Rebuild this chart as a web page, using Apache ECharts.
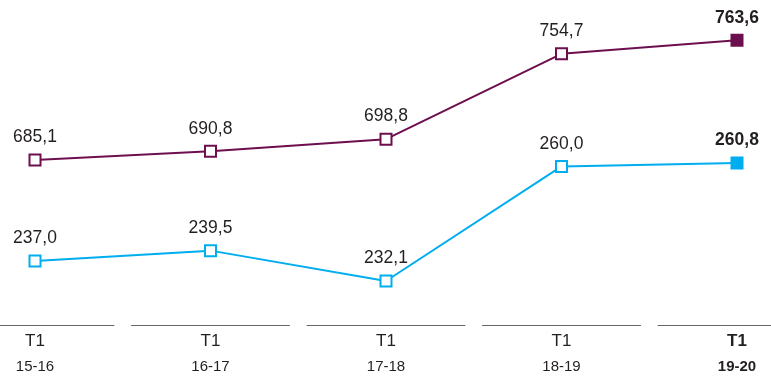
<!DOCTYPE html>
<html>
<head>
<meta charset="utf-8">
<script src="https://cdn.jsdelivr.net/npm/echarts@6/dist/echarts.min.js"></script>
<style>html,body{margin:0;padding:0;background:#fff}#c{width:771px;height:378px}</style>
</head>
<body>
<div id="c"></div>
<script>
const quarters = ['T1','T1','T1','T1','T1'];
const seasons = ['15-16','16-17','17-18','18-19','19-20'];
const seriesTop = [685.1, 690.8, 698.8, 754.7, 763.6];
const seriesBottom = [237.0, 239.5, 232.1, 260.0, 260.8];

const purple = '#6d0f4e';
const cyan = '#00aeef';
const fmt = v => v.toFixed(1).replace('.', ',');
const last = seasons.length - 1;

function buildData(values, color) {
  return values.map((v, i) => i === last ? {
    value: v,
    itemStyle: { color: color, borderColor: color },
    label: { fontWeight: 'bold' }
  } : v);
}

function mkSeries(values, color, yIdx) {
  return {
    type: 'line',
    yAxisIndex: yIdx,
    data: buildData(values, color),
    symbol: 'rect',
    symbolSize: 11,
    lineStyle: { color: color, width: 2 },
    itemStyle: { color: '#fff', borderColor: color, borderWidth: 2 },
    label: {
      show: true, position: 'top', distance: 7,
      color: '#231f20', fontSize: 17.5, fontFamily: 'Liberation Sans',
      formatter: p => fmt(p.value)
    },
    emphasis: { disabled: true },
    z: 3
  };
}

const chart = echarts.init(document.getElementById('c'));
chart.setOption({
  animation: false,
  backgroundColor: '#fff',
  grid: { left: -52.75, right: -53.75, top: 0, bottom: 53, containLabel: false, outerBoundsMode: 'none' },
  xAxis: {
    type: 'category',
    data: seasons.map((s, i) => quarters[i] + '|' + s),
    boundaryGap: true,
    axisLine: { show: true, lineStyle: { color: '#666', width: 1, type: [158, 17.5], dashOffset: 166.75 } },
    axisTick: { show: false },
    axisLabel: {
      margin: 5,
      interval: 0,
      fontFamily: 'Liberation Sans',
      formatter: (v, i) => {
        const [q, s] = v.split('|');
        return i === last ? '{qb|' + q + '}\n{sb|' + s + '}' : '{q|' + q + '}\n{s|' + s + '}';
      },
      rich: {
        q: { fontSize: 17, lineHeight: 22, color: '#231f20', fontFamily: 'Liberation Sans' },
        s: { fontSize: 15, lineHeight: 30, color: '#231f20', fontFamily: 'Liberation Sans' },
        qb: { fontSize: 17, lineHeight: 22, color: '#231f20', fontWeight: 'bold', fontFamily: 'Liberation Sans' },
        sb: { fontSize: 15, lineHeight: 30, color: '#231f20', fontWeight: 'bold', fontFamily: 'Liberation Sans' }
      }
    },
    splitLine: { show: false }
  },
  yAxis: [
    { type: 'value', min: 577, max: 790, show: false, splitLine: { show: false } },
    { type: 'value', min: 221.4, max: 300.5, show: false, splitLine: { show: false } }
  ],
  series: [
    mkSeries(seriesTop, purple, 0),
    mkSeries(seriesBottom, cyan, 1)
  ]
});
</script>
</body>
</html>
